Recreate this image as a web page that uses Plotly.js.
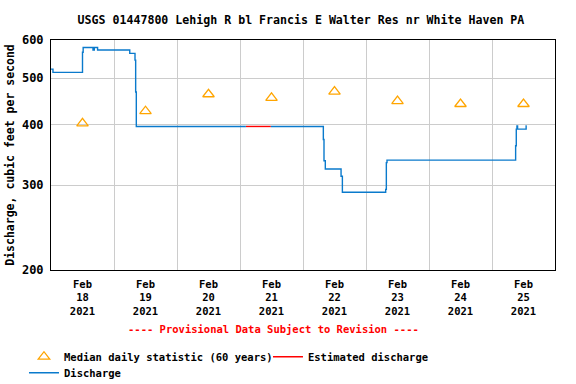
<!DOCTYPE html>
<html>
<head>
<meta charset="utf-8">
<script src="https://cdn.plot.ly/plotly-3.0.1.min.js"></script>
<style>html,body{margin:0;padding:0;background:#fff;}#chart{width:576px;height:384px;}</style>
</head>
<body>
<div id="chart"></div>
<script>
// Discharge (15-min steps), cubic feet per second
const dischargeTime = ['2021-02-18 00:00','2021-02-18 00:45','2021-02-18 12:00','2021-02-18 12:15','2021-02-18 16:00','2021-02-18 16:30','2021-02-18 17:45','2021-02-19 06:00','2021-02-19 08:00','2021-02-19 08:15','2021-02-19 08:30','2021-02-21 02:15','2021-02-21 02:16','2021-02-21 11:45','2021-02-22 07:45','2021-02-22 08:00','2021-02-22 08:30','2021-02-22 14:30','2021-02-22 15:00','2021-02-23 07:30','2021-02-23 07:45','2021-02-23 08:00','2021-02-25 09:00','2021-02-25 09:15','2021-02-25 09:30','2021-02-25 09:45','2021-02-25 13:00','2021-02-25 13:15'];
const dischargeValue = [522,514,566,579,572,579,572,563,545,468,397,397,null,397,373,337,324,313,290,294,334,338,362,392,398,392,398,398];
// Estimated discharge
const estimatedTime = ['2021-02-21 02:15','2021-02-21 11:45'];
const estimatedValue = [397,397];
// Median daily statistic (60 years)
const medianDate = ['2021-02-18 12:00','2021-02-19 12:00','2021-02-20 12:00','2021-02-21 12:00','2021-02-22 12:00','2021-02-23 12:00','2021-02-24 12:00','2021-02-25 12:00'];
const medianValue = [403,427,463,455,469,448,442,442];
// Axis ticks
const xTickVals = medianDate;
const xTickText = ['Feb<br>18<br>2021','Feb<br>19<br>2021','Feb<br>20<br>2021','Feb<br>21<br>2021','Feb<br>22<br>2021','Feb<br>23<br>2021','Feb<br>24<br>2021','Feb<br>25<br>2021'];
const xGridVals = ['2021-02-19','2021-02-20','2021-02-21','2021-02-22','2021-02-23','2021-02-24','2021-02-25'];
const yTickVals = [200,300,400,500,600];
const yTickText = ['200','300','400','500','600'];

const FONT = 'DejaVu Sans Mono, monospace';

const traces = [
  {x: medianDate, y: medianValue, type: 'scatter', mode: 'markers', name: 'Median daily statistic (60 years)',
   marker: {symbol: 'triangle-up-open', size: 10, color: '#ffa500', line: {width: 1.3, color: '#ffa500'}},
   legend: 'legend', cliponaxis: false},
  {x: estimatedTime, y: estimatedValue, type: 'scatter', mode: 'lines', name: 'Estimated discharge',
   line: {color: '#ff0000', width: 1.4, shape: 'hv'}, legend: 'legend2'},
  {x: dischargeTime, y: dischargeValue, type: 'scatter', mode: 'lines', name: 'Discharge',
   line: {color: '#0a7acc', width: 1.4, shape: 'hv'}, connectgaps: false, legend: 'legend3'}
];

const legFont = {family: FONT, size: 10.5, color: '#000', weight: 'bold'};
const layout = {
  width: 576, height: 384,
  margin: {l: 51, r: 21, t: 40, b: 114, autoexpand: false},
  paper_bgcolor: '#fff', plot_bgcolor: '#fff',
  font: {family: FONT, color: '#000'},
  title: {text: 'USGS 01447800 Lehigh R bl Francis E Walter Res nr White Haven PA',
          font: {family: FONT, size: 11.6, weight: 'bold', color: '#000'},
          xref: 'paper', x: 0.496, xanchor: 'center', yref: 'container', y: 0.948, yanchor: 'middle'},
  xaxis: {type: 'date', range: ['2021-02-18 00:00','2021-02-26 00:00'],
          tickmode: 'array', tickvals: xTickVals, ticktext: xTickText,
          tickfont: {family: FONT, size: 10.5, weight: 'bold', color: '#000'},
          ticklabelstandoff: 4,
          showgrid: false, ticks: '', showline: true, linecolor: '#000', linewidth: 1, mirror: true,
          zeroline: false,
          minor: {tickmode: 'array', tickvals: xGridVals, showgrid: true, gridcolor: '#cccccc', gridwidth: 1, ticks: ''}},
  yaxis: {type: 'log', range: [Math.log10(200), Math.log10(600)],
          tickmode: 'array', tickvals: yTickVals, ticktext: yTickText,
          tickfont: {family: FONT, size: 12, weight: 'bold', color: '#000'},
          ticklabelstandoff: 4,
          showgrid: true, gridcolor: '#cccccc', gridwidth: 1, ticks: '',
          showline: true, linecolor: '#000', linewidth: 1, mirror: true, zeroline: false,
          title: {text: 'Discharge, cubic feet per second', font: {family: FONT, size: 11.5, weight: 'bold', color: '#000'}, standoff: 4}},
  showlegend: true,
  legend: {orientation: 'h', x: -0.0536, xanchor: 'left', y: -0.377, yanchor: 'middle', font: legFont, bgcolor: 'rgba(0,0,0,0)'},
  legend2: {orientation: 'h', x: 0.4305, xanchor: 'left', y: -0.377, yanchor: 'middle', font: legFont, bgcolor: 'rgba(0,0,0,0)'},
  legend3: {orientation: 'h', x: -0.0536, xanchor: 'left', y: -0.4465, yanchor: 'middle', font: legFont, bgcolor: 'rgba(0,0,0,0)'},
  annotations: [
    {text: '---- Provisional Data Subject to Revision ----', xref: 'paper', yref: 'paper', x: 0.4415, y: -0.2565,
     xanchor: 'center', yanchor: 'middle', showarrow: false,
     font: {family: FONT, size: 10.5, weight: 'bold', color: '#ff0000'}}
  ]
};

Plotly.newPlot('chart', traces, layout, {displayModeBar: false, staticPlot: true});
</script>
</body>
</html>
